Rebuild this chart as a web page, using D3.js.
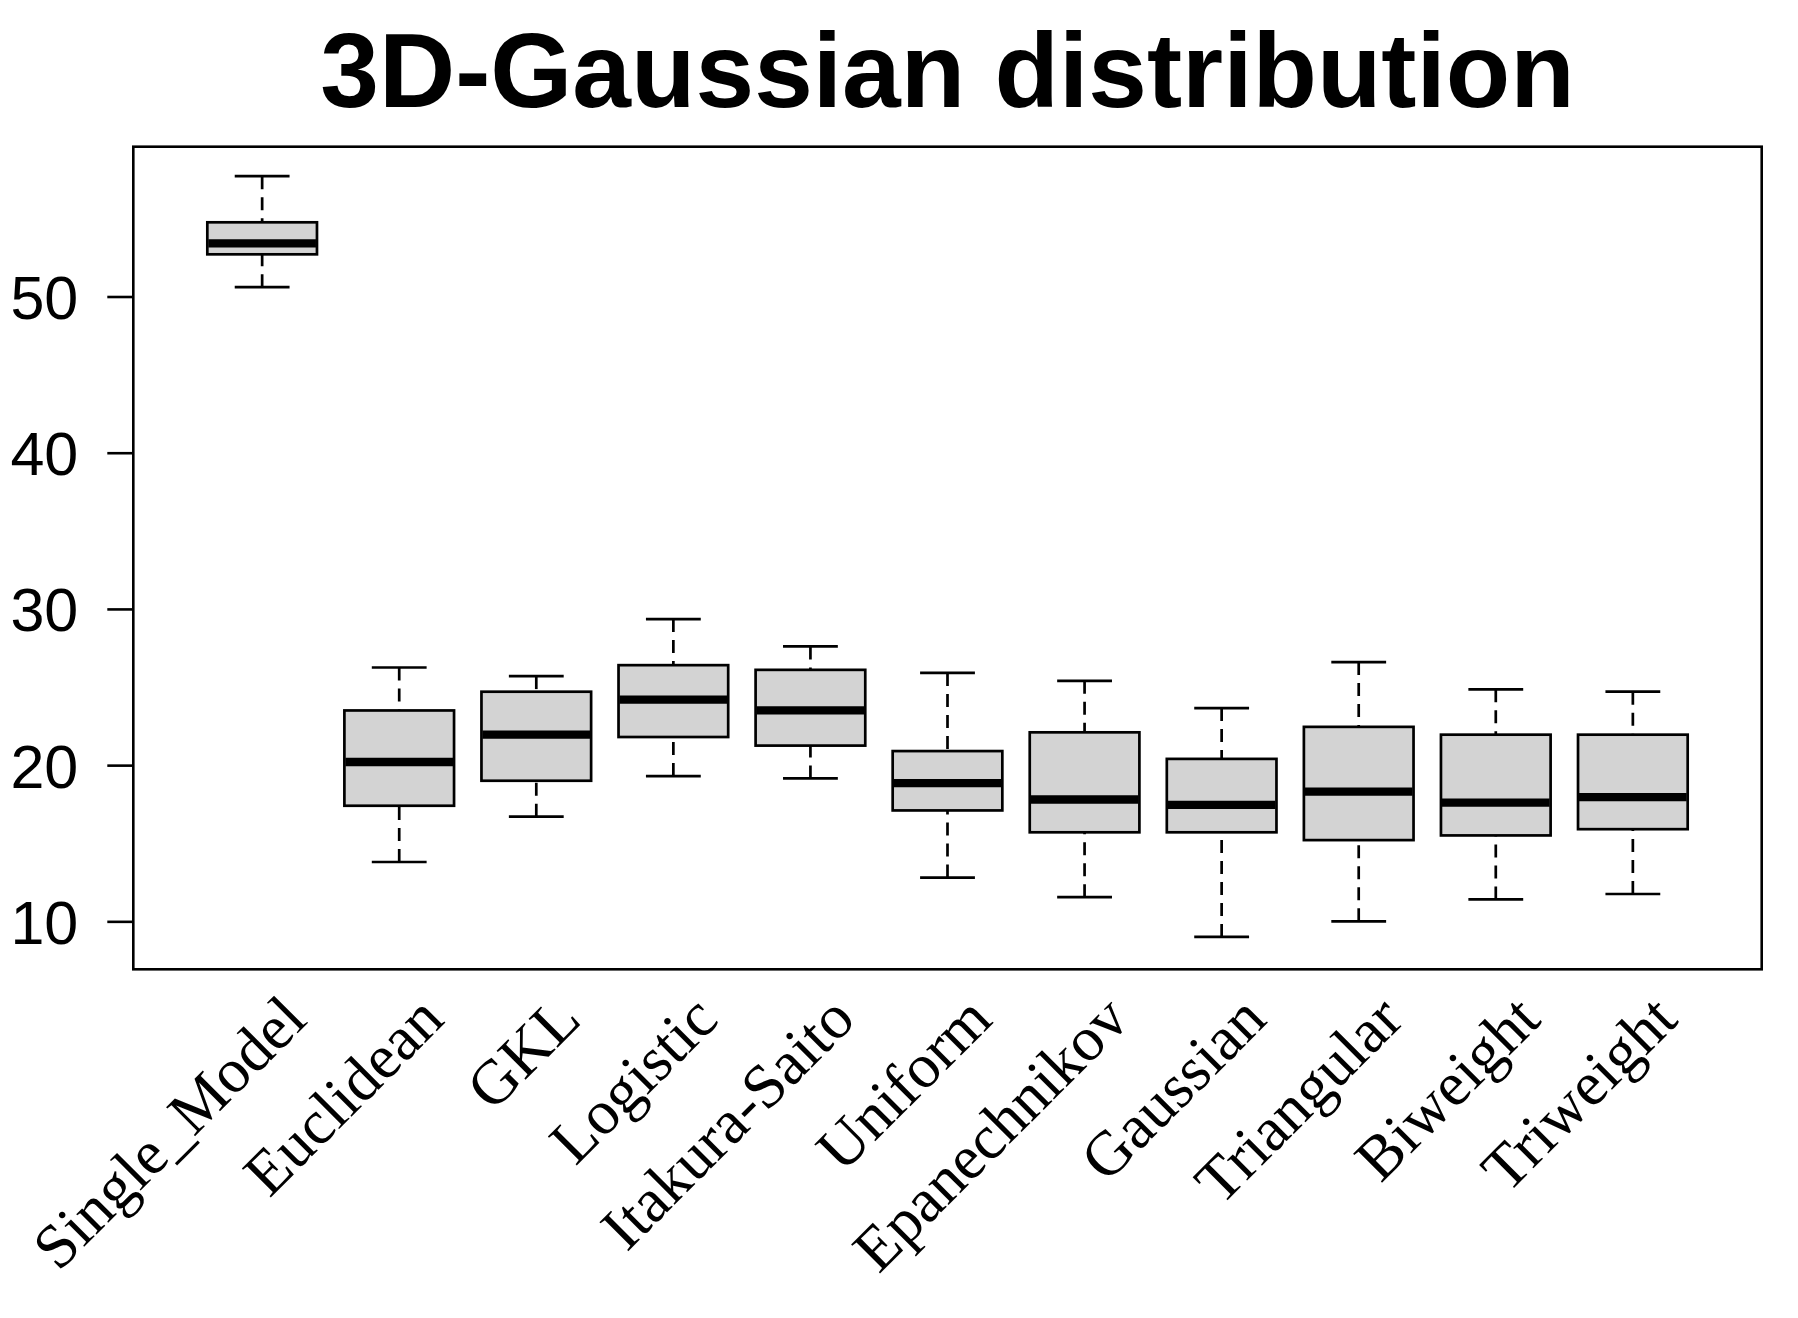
<!DOCTYPE html>
<html>
<head>
<meta charset="utf-8">
<script src="https://cdn.jsdelivr.net/npm/d3@7"></script>
<style>
  html, body { margin: 0; padding: 0; background: #fff; }
  svg { display: block; }
</style>
</head>
<body>
<svg id="chart" width="1798" height="1318"></svg>
<script>
// ---- Data ----
const categories = ["Single_Model", "Euclidean", "GKL", "Logistic", "Itakura-Saito", "Uniform",
                    "Epanechnikov", "Gaussian", "Triangular", "Biweight", "Triweight"];
const whiskerLow  = [50.6, 13.8, 16.7, 19.3, 19.15, 12.8, 11.55, 9.0, 10.0, 11.4, 11.75];
const quartile1   = [52.7, 17.4, 19.0, 21.8, 21.25, 17.1, 15.7, 15.7, 15.2, 15.5, 15.9];
const medians     = [53.4, 20.2, 21.95, 24.2, 23.5, 18.85, 17.8, 17.45, 18.3, 17.6, 17.95];
const quartile3   = [54.75, 23.5, 24.7, 26.4, 26.1, 20.9, 22.1, 20.4, 22.45, 21.95, 21.95];
const whiskerHigh = [57.7, 26.25, 25.7, 29.35, 27.6, 25.9, 25.4, 23.65, 26.6, 24.85, 24.7];
const yTicks = [10, 20, 30, 40, 50];
const titleText = "3D-Gaussian distribution";

// ---- Layout ----
const plot = { left: 133.3, right: 1761.7, top: 146.7, bottom: 969.3 };
const svg = d3.select("#chart");

const x = d3.scaleLinear().domain([0.06, 11.94]).range([plot.left, plot.right]);
const y = d3.scaleLinear().domain([6.93, 59.59]).range([plot.bottom, plot.top]);

const unit = x(2) - x(1);
const boxW = 0.8 * unit;
const stapleW = 0.4 * unit;

const rows = categories.map((c, i) => ({
  name: c, pos: i + 1,
  lo: whiskerLow[i], q1: quartile1[i], med: medians[i], q3: quartile3[i], hi: whiskerHigh[i]
}));

// Title
svg.append("text")
  .attr("x", (plot.left + plot.right) / 2)
  .attr("y", 107.3)
  .attr("text-anchor", "middle")
  .style("font-family", "'Liberation Sans', Arial, sans-serif")
  .style("font-weight", "bold")
  .style("font-size", "105.5px")
  .attr("fill", "#000")
  .text(titleText);

const g = svg.append("g");

// Whiskers (dashed), drawn from whisker end toward box
const wh = g.append("g");
rows.forEach(d => {
  [[d.hi, d.q3], [d.lo, d.q1]].forEach(([a, b]) => {
    wh.append("line")
      .attr("x1", x(d.pos)).attr("x2", x(d.pos))
      .attr("y1", y(a)).attr("y2", y(b))
      .attr("stroke", "#000").attr("stroke-width", 2.7)
      .attr("stroke-dasharray", "13,8");
  });
  [d.hi, d.lo].forEach(v => {
    wh.append("line")
      .attr("x1", x(d.pos) - stapleW / 2).attr("x2", x(d.pos) + stapleW / 2)
      .attr("y1", y(v)).attr("y2", y(v))
      .attr("stroke", "#000").attr("stroke-width", 2.7);
  });
});

// Boxes
g.selectAll("rect.box").data(rows).join("rect")
  .attr("class", "box")
  .attr("x", d => x(d.pos) - boxW / 2)
  .attr("width", boxW)
  .attr("y", d => y(d.q3))
  .attr("height", d => y(d.q1) - y(d.q3))
  .attr("fill", "#d3d3d3")
  .attr("stroke", "#000")
  .attr("stroke-width", 2.7);

// Medians
g.selectAll("line.med").data(rows).join("line")
  .attr("class", "med")
  .attr("x1", d => x(d.pos) - boxW / 2 + 1)
  .attr("x2", d => x(d.pos) + boxW / 2 - 1)
  .attr("y1", d => y(d.med)).attr("y2", d => y(d.med))
  .attr("stroke", "#000").attr("stroke-width", 8.3);

// Plot frame
svg.append("rect")
  .attr("x", plot.left).attr("y", plot.top)
  .attr("width", plot.right - plot.left).attr("height", plot.bottom - plot.top)
  .attr("fill", "none").attr("stroke", "#000").attr("stroke-width", 2.6);

// Y axis
const yAxis = d3.axisLeft(y).tickValues(yTicks).tickSize(26).tickPadding(29).tickFormat(d3.format("d"));
const ya = svg.append("g").attr("transform", `translate(${plot.left},0)`).call(yAxis);
ya.select(".domain").remove();
ya.selectAll(".tick line").attr("stroke", "#000").attr("stroke-width", 2.6);
ya.selectAll(".tick text")
  .attr("fill", "#000")
  .style("font-family", "'Liberation Sans', Arial, sans-serif")
  .style("font-size", "61px")
  .attr("dy", "0.36em");

// X labels (rotated 45 degrees)
svg.append("g").selectAll("text").data(rows).join("text")
  .attr("transform", d => `translate(${x(d.pos) + 47},1022) rotate(-45)`)
  .attr("text-anchor", "end")
  .style("font-family", "'Liberation Serif', 'Times New Roman', serif")
  .style("font-size", "62.5px")
  .attr("fill", "#000")
  .text(d => d.name);
</script>
</body>
</html>
